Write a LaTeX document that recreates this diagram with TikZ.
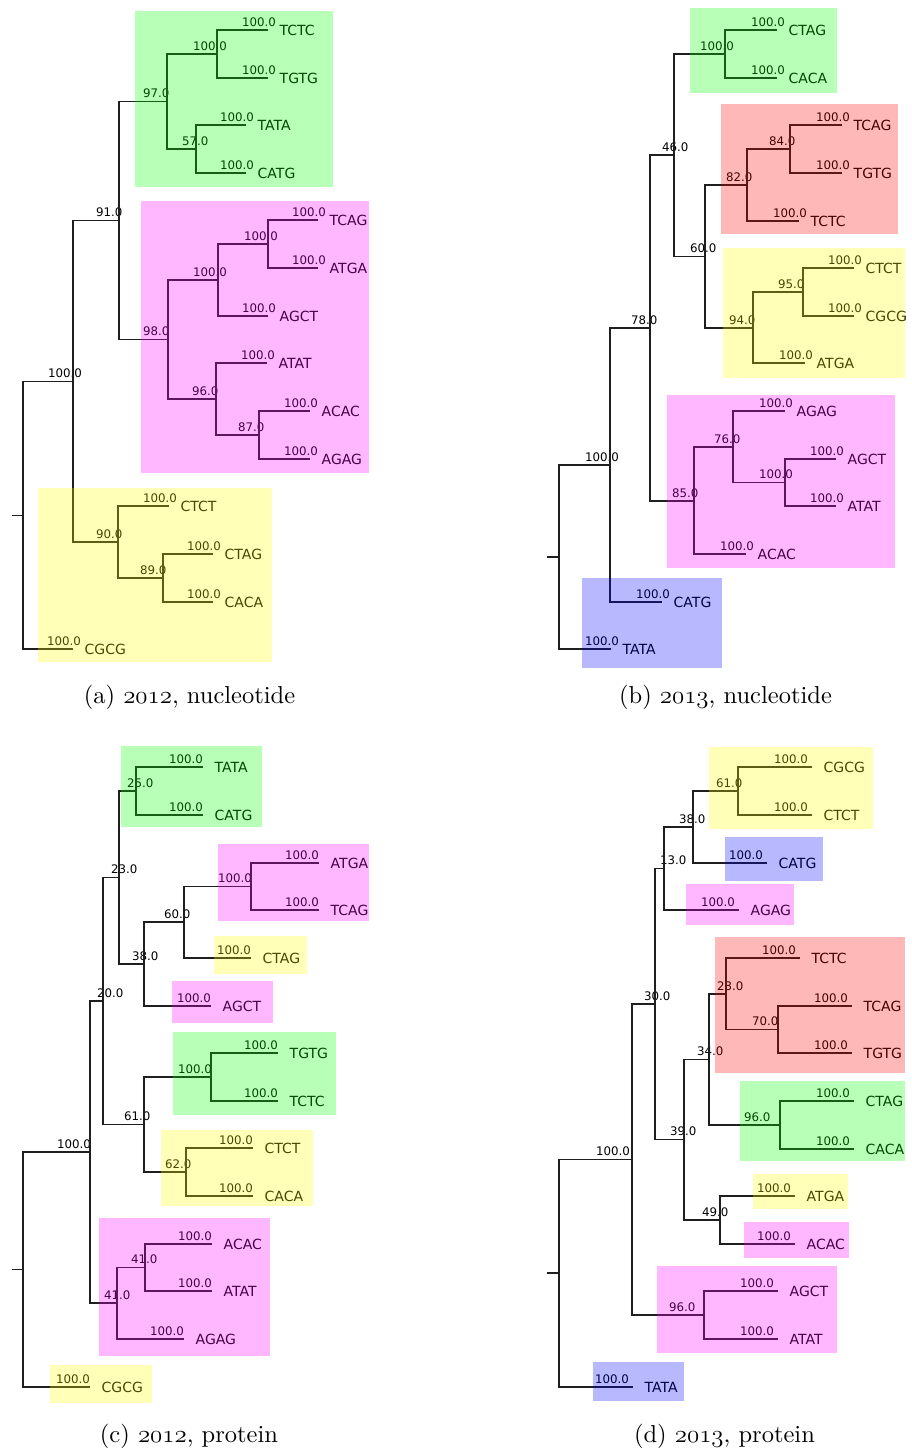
\documentclass[tikz,border=0pt]{standalone}
\usepackage{fontspec}
\newfontfamily\dejavu{DejaVu Sans}
\newfontfamily\capfont{lmroman10-regular.otf}
\newcommand\osn[1]{{\usefont{OML}{lmm}{m}{it}#1}}
\definecolor{hgreen}{RGB}{0,255,0}
\definecolor{hpink}{RGB}{255,0,255}
\definecolor{hyellow}{RGB}{255,255,0}
\definecolor{hred}{RGB}{255,0,0}
\definecolor{hblue}{RGB}{0,0,255}
\tikzset{
  br/.style={line width=1.3pt, black!88},
  sup/.style={font=\dejavu\fontsize{11.8}{12}\selectfont, inner sep=0pt, anchor=south west, text depth=0pt},
  leafname/.style={font=\dejavu\fontsize{14}{14}\selectfont, inner sep=0pt, anchor=west, text height=10pt, text depth=0pt},
  capt/.style={font=\capfont\fontsize{24.5}{28}\selectfont, anchor=base, inner sep=0pt},
  hl/.style={fill opacity=0.28}
}
% internal node: name, x, y, label left x, label
\newcommand\inode[5]{\coordinate (#1) at (#2,#3); \node[sup] (#1l) at ({#4},{#3-3.5}) {#5};}
% leaf: name, tip x, y, text, dx of support label
\newcommand\tleaf[5]{\coordinate (#1) at (#2,#3); \node[sup,anchor=south east] (#1l) at ({#2+(#5)},{#3-3.5}) {100.0}; \node[leafname] (#1n) at ({#2+11.5},{#3}) {#4};}
\newcommand\edge[2]{\draw[br] (#2) -| (#1);}
\begin{document}
\begin{tikzpicture}[x=1pt,y=-1pt]
\useasboundingbox (0,0) rectangle (912,1452);
% ================= (a) =================
\tleaf{aTCTC}{268}{30}{TCTC}{8}
\tleaf{aTGTG}{268}{78}{TGTG}{8}
\tleaf{aTATA}{246}{125}{TATA}{8}
\tleaf{aCATG}{246}{173}{CATG}{8}
\tleaf{aTCAG}{318}{220}{TCAG}{8}
\tleaf{aATGA}{318}{268}{ATGA}{8}
\tleaf{aAGCT}{268}{316}{AGCT}{8}
\tleaf{aATAT}{267}{363}{ATAT}{8}
\tleaf{aACAC}{310}{411}{ACAC}{8}
\tleaf{aAGAG}{310}{459}{AGAG}{8}
\tleaf{aCTCT}{169}{506}{CTCT}{8}
\tleaf{aCTAG}{213}{554}{CTAG}{8}
\tleaf{aCACA}{213}{602}{CACA}{8}
\tleaf{aCGCG}{73}{649}{CGCG}{8}
\inode{a1}{217}{54}{193}{100.0}
\inode{a2}{196}{149}{182}{57.0}
\inode{a3}{167}{101.5}{143}{97.0}
\inode{a4}{268}{244}{244}{100.0}
\inode{a5}{218}{280}{193}{100.0}
\inode{a7}{259}{435}{238}{87.0}
\inode{a6}{216}{399}{192}{96.0}
\inode{a8}{168}{339.5}{143}{98.0}
\inode{a9}{119}{220.5}{96}{91.0}
\inode{a10}{163}{578}{140}{89.0}
\inode{a11}{118}{542}{96}{90.0}
\inode{a12}{73}{381.5}{48}{100.0}
\coordinate (aR) at (23,515.5);
\coordinate (aS) at (12,515.5);
\edge{a1}{aTCTC}\edge{a1}{aTGTG}
\edge{a2}{aTATA}\edge{a2}{aCATG}
\edge{a3}{a1}\edge{a3}{a2}
\edge{a4}{aTCAG}\edge{a4}{aATGA}
\edge{a5}{a4}\edge{a5}{aAGCT}
\edge{a7}{aACAC}\edge{a7}{aAGAG}
\edge{a6}{aATAT}\edge{a6}{a7}
\edge{a8}{a5}\edge{a8}{a6}
\edge{a9}{a3}\edge{a9}{a8}
\edge{a10}{aCTAG}\edge{a10}{aCACA}
\edge{a11}{aCTCT}\edge{a11}{a10}
\edge{a12}{a9}\edge{a12}{a11}
\edge{aR}{a12}\edge{aR}{aCGCG}
\draw[br] (aS) -- (aR);
\fill[hgreen,hl] (135,11) rectangle (333,187);
\fill[hpink,hl] (141,201) rectangle (369,473);
\fill[hyellow,hl] (38,488) rectangle (272,662);
\node[capt] (capa) at (189.5,703) {(a) \osn{2012}, nucleotide};
% ================= (b) =================
\begin{scope}
\clip (540,0) rectangle (905,1452);
\tleaf{bCTAG}{777}{30}{CTAG}{8}
\tleaf{bCACA}{777}{78}{CACA}{8}
\tleaf{bTCAG}{842}{125}{TCAG}{8}
\tleaf{bTGTG}{842}{173}{TGTG}{8}
\tleaf{bTCTC}{799}{221}{TCTC}{8}
\tleaf{bCTCT}{854}{268}{CTCT}{8}
\tleaf{bCGCG}{854}{316}{CGCG}{8}
\tleaf{bATGA}{805}{363}{ATGA}{8}
\tleaf{bAGAG}{785}{411}{AGAG}{8}
\tleaf{bAGCT}{836}{459}{AGCT}{8}
\tleaf{bATAT}{836}{506}{ATAT}{8}
\tleaf{bACAC}{746}{554}{ACAC}{8}
\tleaf{bCATG}{662}{602}{CATG}{8}
\tleaf{bTATA}{611}{649}{TATA}{8}
\inode{b1}{725}{54}{700}{100.0}
\inode{b2}{790}{149}{769}{84.0}
\inode{b3}{747}{185}{726}{82.0}
\inode{b4}{803}{292}{778}{95.0}
\inode{b5}{753}{328}{729}{94.0}
\inode{b6}{705}{256.5}{690}{60.0}
\inode{b7}{674}{155}{662}{46.0}
\inode{b8}{785}{482.5}{759}{100.0}
\inode{b9}{733}{447}{714}{76.0}
\inode{b10}{694}{501}{672}{85.0}
\inode{b11}{650}{328}{631}{78.0}
\inode{b12}{610}{465}{585}{100.0}
\coordinate (bR) at (559,557);
\coordinate (bS) at (547,557);
\edge{b1}{bCTAG}\edge{b1}{bCACA}
\edge{b2}{bTCAG}\edge{b2}{bTGTG}
\edge{b3}{b2}\edge{b3}{bTCTC}
\edge{b4}{bCTCT}\edge{b4}{bCGCG}
\edge{b5}{b4}\edge{b5}{bATGA}
\edge{b6}{b3}\edge{b6}{b5}
\edge{b7}{b1}\edge{b7}{b6}
\edge{b8}{bAGCT}\edge{b8}{bATAT}
\edge{b9}{bAGAG}\edge{b9}{b8}
\edge{b10}{b9}\edge{b10}{bACAC}
\edge{b11}{b7}\edge{b11}{b10}
\edge{b12}{b11}\edge{b12}{bCATG}
\edge{bR}{b12}\edge{bR}{bTATA}
\draw[br] (bS) -- (bR);
\fill[hgreen,hl] (690,8) rectangle (837,93);
\fill[hred,hl] (721,104) rectangle (898,234);
\fill[hyellow,hl] (723,248) rectangle (905,378);
\fill[hpink,hl] (667,395) rectangle (895,568);
\fill[hblue,hl] (582,578) rectangle (722,668);
\end{scope}
\node[capt] (capb) at (725.5,703) {(b) \osn{2013}, nucleotide};
% ================= (c) =================
\tleaf{cTATA}{203}{767}{TATA}{0}
\tleaf{cCATG}{203}{815}{CATG}{0}
\tleaf{cATGA}{319}{863}{ATGA}{0}
\tleaf{cTCAG}{319}{910}{TCAG}{0}
\tleaf{cCTAG}{251}{958}{CTAG}{0}
\tleaf{cAGCT}{211}{1006}{AGCT}{0}
\tleaf{cTGTG}{278}{1053}{TGTG}{0}
\tleaf{cTCTC}{278}{1101}{TCTC}{0}
\tleaf{cCTCT}{253}{1148}{CTCT}{0}
\tleaf{cCACA}{253}{1196}{CACA}{0}
\tleaf{cACAC}{212}{1244}{ACAC}{0}
\tleaf{cATAT}{212}{1291}{ATAT}{0}
\tleaf{cAGAG}{184}{1339}{AGAG}{0}
\tleaf{cCGCG}{90}{1387}{CGCG}{0}
\inode{c1}{136}{791}{127}{25.0}
\inode{c2}{251}{886.5}{218}{100.0}
\inode{c3}{184}{922}{164}{60.0}
\inode{c4}{144}{964}{132}{38.0}
\inode{c5}{119}{877.5}{111}{23.0}
\inode{c6}{211}{1077}{178}{100.0}
\inode{c7}{186}{1172}{165}{62.0}
\inode{c8}{144}{1124.5}{124}{61.0}
\inode{c9}{103}{1001}{97}{20.0}
\inode{c10}{145}{1267.5}{131}{41.0}
\inode{c11}{117}{1303}{104}{41.0}
\inode{c12}{90}{1152}{57}{100.0}
\coordinate (cR) at (23,1269.5);
\coordinate (cS) at (12,1269.5);
\edge{c1}{cTATA}\edge{c1}{cCATG}
\edge{c2}{cATGA}\edge{c2}{cTCAG}
\edge{c3}{c2}\edge{c3}{cCTAG}
\edge{c4}{c3}\edge{c4}{cAGCT}
\edge{c5}{c1}\edge{c5}{c4}
\edge{c6}{cTGTG}\edge{c6}{cTCTC}
\edge{c7}{cCTCT}\edge{c7}{cCACA}
\edge{c8}{c6}\edge{c8}{c7}
\edge{c9}{c5}\edge{c9}{c8}
\edge{c10}{cACAC}\edge{c10}{cATAT}
\edge{c11}{c10}\edge{c11}{cAGAG}
\edge{c12}{c9}\edge{c12}{c11}
\edge{cR}{c12}\edge{cR}{cCGCG}
\draw[br] (cS) -- (cR);
\fill[hgreen,hl] (121,746) rectangle (262,827);
\fill[hpink,hl] (218,844) rectangle (369,921);
\fill[hyellow,hl] (214,936) rectangle (307,974);
\fill[hpink,hl] (172,981) rectangle (273,1023);
\fill[hgreen,hl] (173,1032) rectangle (336,1115);
\fill[hyellow,hl] (161,1130) rectangle (313,1206);
\fill[hpink,hl] (99,1218) rectangle (270,1356);
\fill[hyellow,hl] (50,1365) rectangle (152,1403);
\node[capt] (capc) at (189,1442) {(c) \osn{2012}, protein};
% ================= (d) =================
\begin{scope}
\clip (540,0) rectangle (905,1452);
\tleaf{dCGCG}{812}{767}{CGCG}{-4}
\tleaf{dCTCT}{812}{815}{CTCT}{-4}
\tleaf{dCATG}{767}{863}{CATG}{-4}
\tleaf{dAGAG}{739}{910}{AGAG}{-4}
\tleaf{dTCTC}{800}{958}{TCTC}{-4}
\tleaf{dTCAG}{852}{1006}{TCAG}{-4}
\tleaf{dTGTG}{852}{1053}{TGTG}{-4}
\tleaf{dCTAG}{854}{1101}{CTAG}{-4}
\tleaf{dCACA}{854}{1149}{CACA}{-4}
\tleaf{dATGA}{795}{1196}{ATGA}{-4}
\tleaf{dACAC}{795}{1244}{ACAC}{-4}
\tleaf{dAGCT}{778}{1291}{AGCT}{-4}
\tleaf{dATAT}{778}{1339}{ATAT}{-4}
\tleaf{dTATA}{633}{1387}{TATA}{-4}
\inode{d1}{738}{791}{716}{61.0}
\inode{d2}{693}{827}{679}{38.0}
\inode{d3}{664}{868.5}{660}{13.0}
\inode{d4}{778}{1029.5}{752}{70.0}
\inode{d5}{726}{994}{717}{23.0}
\inode{d6}{780}{1125}{744}{96.0}
\inode{d7}{709}{1059.5}{697}{34.0}
\inode{d8}{720}{1220}{702}{49.0}
\inode{d9}{684}{1139.5}{670}{39.0}
\inode{d10}{655}{1004}{644}{30.0}
\inode{d11}{704}{1315}{669}{96.0}
\inode{d12}{632}{1159.5}{596}{100.0}
\coordinate (dR) at (559,1273);
\coordinate (dS) at (547,1273);
\edge{d1}{dCGCG}\edge{d1}{dCTCT}
\edge{d2}{d1}\edge{d2}{dCATG}
\edge{d3}{d2}\edge{d3}{dAGAG}
\edge{d4}{dTCAG}\edge{d4}{dTGTG}
\edge{d5}{dTCTC}\edge{d5}{d4}
\edge{d6}{dCTAG}\edge{d6}{dCACA}
\edge{d7}{d5}\edge{d7}{d6}
\edge{d8}{dATGA}\edge{d8}{dACAC}
\edge{d9}{d7}\edge{d9}{d8}
\edge{d10}{d3}\edge{d10}{d9}
\edge{d11}{dAGCT}\edge{d11}{dATAT}
\edge{d12}{d10}\edge{d12}{d11}
\edge{dR}{d12}\edge{dR}{dTATA}
\draw[br] (dS) -- (dR);
\fill[hyellow,hl] (709,747) rectangle (873,829);
\fill[hblue,hl] (725,837) rectangle (823,881);
\fill[hpink,hl] (686,884) rectangle (794,925);
\fill[hred,hl] (715,937) rectangle (905,1073);
\fill[hgreen,hl] (740,1081) rectangle (905,1161);
\fill[hyellow,hl] (753,1174) rectangle (848,1209);
\fill[hpink,hl] (744,1222) rectangle (849,1258);
\fill[hpink,hl] (657,1266) rectangle (837,1353);
\fill[hblue,hl] (593,1362) rectangle (684,1401);
\end{scope}
\node[capt] (capd) at (724.5,1442) {(d) \osn{2013}, protein};
\end{tikzpicture}
\end{document}
